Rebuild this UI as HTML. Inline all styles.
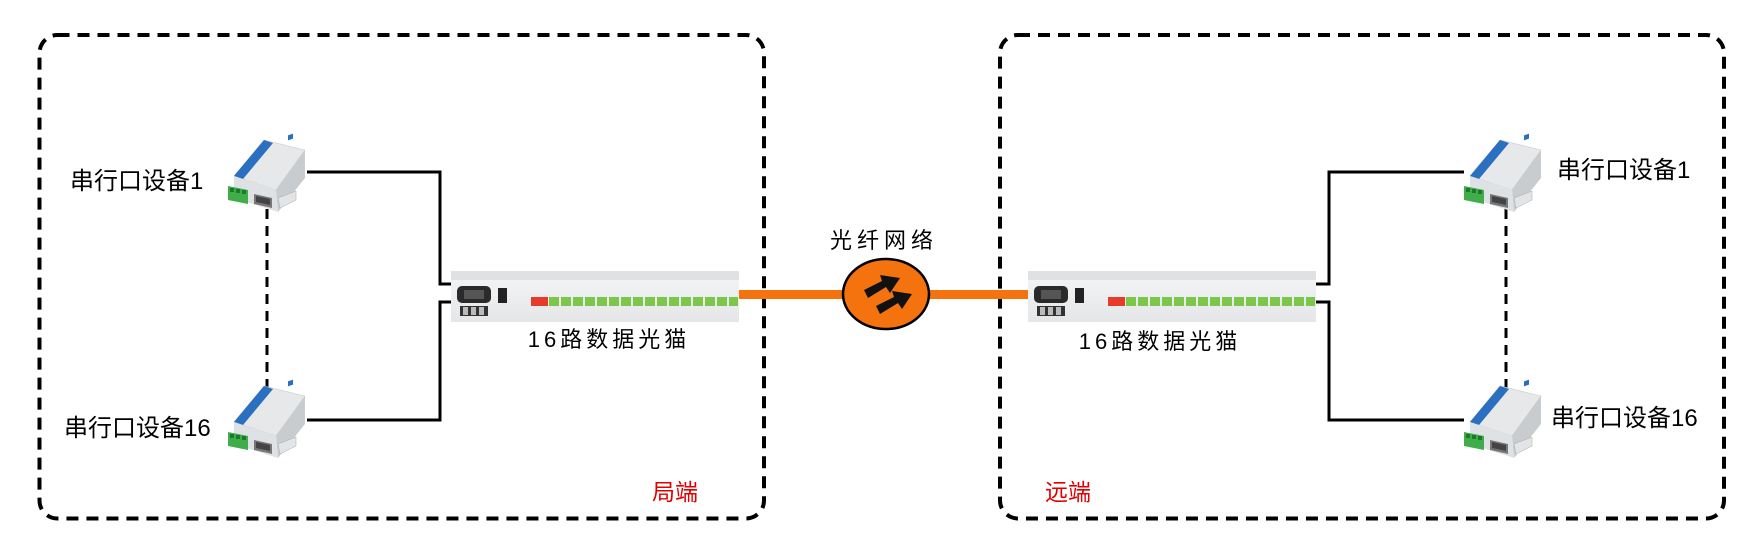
<!DOCTYPE html>
<html><head><meta charset="utf-8"><style>
html,body{margin:0;padding:0;background:#fff;}
svg{display:block}
text{font-family:"Liberation Sans","Noto Sans CJK SC",sans-serif;}
</style></head><body>
<svg width="1761" height="551" viewBox="0 0 1761 551" xmlns="http://www.w3.org/2000/svg">
<defs>
<linearGradient id="mg" x1="0" y1="0" x2="0" y2="1"><stop offset="0" stop-color="#f4f5f6"/><stop offset="1" stop-color="#e4e6e8"/></linearGradient>
<g id="dev">
  <polygon points="8,40 38,4 79,14 50,54" fill="#e6e8ea" stroke="#c8cccf" stroke-width="0.6"/>
  <polygon points="8,40 38,4 47,7 17,43" fill="#2b6fc0"/>
  <polygon points="50,54 79,14 79,42 52,76" fill="#c9ccce"/>
  <polygon points="8,40 50,54 52,76 8,62" fill="#dfe2e4"/>
  <polygon points="52,62 70,55 70,64 54,72" fill="#e2e4e6" stroke="#aaa" stroke-width="0.5"/>
  <polygon points="2,50 22,54 22,68 2,64" fill="#3fae4a"/>
  <rect x="4" y="52" width="4" height="4" fill="#1d7a2a"/><rect x="10" y="53" width="4" height="4" fill="#1d7a2a"/><rect x="16" y="54" width="4" height="4" fill="#1d7a2a"/>
  <polygon points="28,58 46,62 46,72 28,68" fill="#777"/>
  <polygon points="30,60 44,63 44,69 30,66" fill="#444"/>
  <rect x="62" y="22" width="5" height="5" fill="#2b6fc0" transform="skewY(-20)"/>
</g>
<g id="modem">
  <rect x="0" y="0" width="288" height="51" fill="url(#mg)"/>
  <rect x="0" y="0" width="288" height="9" fill="#dfe1e3"/>
  <rect x="6" y="15" width="34" height="17" rx="5" fill="#2a2a2a"/>
  <rect x="13" y="19" width="20" height="9" fill="#555"/>
  <rect x="9" y="35" width="28" height="10" fill="#333"/>
  <rect x="12" y="36" width="5" height="8" fill="#bbb"/><rect x="20" y="36" width="5" height="8" fill="#bbb"/><rect x="28" y="36" width="5" height="8" fill="#bbb"/>
  <rect x="47" y="17" width="9" height="15" fill="#222"/>
  <rect x="80" y="26" width="17" height="9" fill="#e63b2a"/>
  <g fill="#7cc64a">
<rect x="98" y="26" width="10" height="9"/><rect x="110" y="26" width="10" height="9"/><rect x="122" y="26" width="10" height="9"/><rect x="134" y="26" width="10" height="9"/><rect x="146" y="26" width="10" height="9"/><rect x="158" y="26" width="10" height="9"/><rect x="170" y="26" width="10" height="9"/><rect x="182" y="26" width="10" height="9"/><rect x="194" y="26" width="10" height="9"/><rect x="206" y="26" width="10" height="9"/><rect x="218" y="26" width="10" height="9"/><rect x="230" y="26" width="10" height="9"/><rect x="242" y="26" width="10" height="9"/><rect x="254" y="26" width="10" height="9"/><rect x="266" y="26" width="10" height="9"/><rect x="278" y="26" width="9" height="9"/>
  </g>
</g>
</defs>

<rect x="39.5" y="35" width="724.5" height="483.5" rx="18" fill="none" stroke="#000" stroke-width="4" stroke-dasharray="12,8"/>
<rect x="1000" y="35" width="724" height="483.5" rx="18" fill="none" stroke="#000" stroke-width="4" stroke-dasharray="12,8"/>

<polyline points="307,172 440,172 440,284 451,284" fill="none" stroke="#000" stroke-width="3"/>
<polyline points="451,302 440,302 440,420 307,420" fill="none" stroke="#000" stroke-width="3"/>
<line x1="267" y1="209" x2="267" y2="389" stroke="#000" stroke-width="3" stroke-dasharray="10,7"/>
<polyline points="1316,284 1329,284 1329,172 1464,172" fill="none" stroke="#000" stroke-width="3"/>
<polyline points="1316,302 1329,302 1329,420 1464,420" fill="none" stroke="#000" stroke-width="3"/>
<line x1="1506" y1="209" x2="1506" y2="389" stroke="#000" stroke-width="3" stroke-dasharray="10,7"/>

<rect x="739" y="290" width="290" height="9" fill="#f5730f"/>
<ellipse cx="886" cy="294" rx="43" ry="35" fill="#f5730f" stroke="#000" stroke-width="2.5"/>
<polygon points="864,290 882,281 880,275 900,278 890,293 886,287 868,298" fill="#111"/>
<polygon points="876,306 894,297 892,291 912,294 902,309 898,303 880,314" fill="#111"/>

<use href="#modem" transform="translate(451,271)"/>
<use href="#modem" transform="translate(1028,271)"/>

<use href="#dev" transform="translate(226,136)"/>
<use href="#dev" transform="translate(226,382)"/>
<use href="#dev" transform="translate(1462,136)"/>
<use href="#dev" transform="translate(1462,382)"/>

<g fill="#000">
<text x="70" y="189" font-size="24">串行口设备1</text>
<text x="64" y="436" font-size="24">串行口设备16</text>
<text x="1557" y="178" font-size="24">串行口设备1</text>
<text x="1551" y="426" font-size="24">串行口设备16</text>
<text x="609" y="347" font-size="22" text-anchor="middle" letter-spacing="4">16路数据光猫</text>
<text x="1160" y="349" font-size="22" text-anchor="middle" letter-spacing="4">16路数据光猫</text>
<text x="884" y="248" font-size="22" text-anchor="middle" letter-spacing="5">光纤网络</text>
<text x="675" y="500" font-size="23" text-anchor="middle" fill="#e00000">局端</text>
<text x="1068" y="500" font-size="23" text-anchor="middle" fill="#e00000">远端</text>
</g>
</svg>
</body></html>
